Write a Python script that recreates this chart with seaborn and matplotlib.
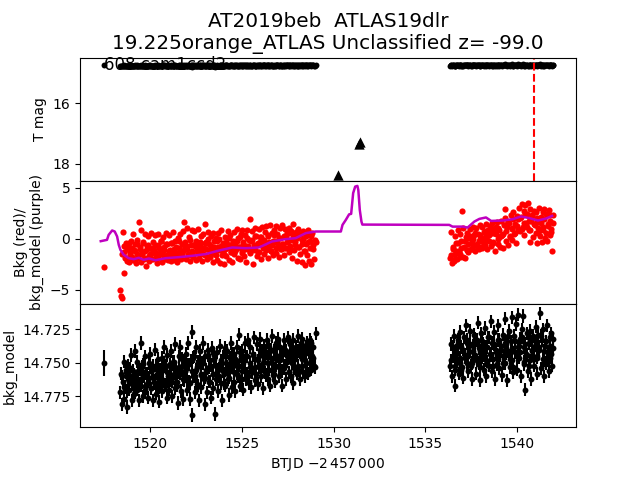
import matplotlib
matplotlib.use("Agg")
import matplotlib.pyplot as plt
import seaborn as sns

title_text = "AT2019beb  ATLAS19dlr\n19.225orange_ATLAS Unclassified z= -99.0"
sector_text = "608 cam1ccd2"
peak_time = 1540.9

# lone early cadence
first_time = [1517.5]
first_mag = [14.75]
first_err = [0.01]
first_bkg = [-2.75]

# first orbit
time_a = [
    1518.40, 1518.44, 1518.49, 1518.53, 1518.58, 1518.62, 1518.66, 1518.71, 1518.75, 1518.80,
    1518.84, 1518.88, 1518.93, 1518.97, 1519.02, 1519.06, 1519.10, 1519.15, 1519.19, 1519.24,
    1519.28, 1519.32, 1519.37, 1519.41, 1519.46, 1519.50, 1519.54, 1519.59, 1519.63, 1519.68,
    1519.72, 1519.76, 1519.81, 1519.85, 1519.90, 1519.94, 1519.98, 1520.03, 1520.07, 1520.12,
    1520.16, 1520.20, 1520.25, 1520.29, 1520.34, 1520.38, 1520.42, 1520.47, 1520.51, 1520.56,
    1520.60, 1520.64, 1520.69, 1520.73, 1520.78, 1520.82, 1520.86, 1520.91, 1520.95, 1521.00,
    1521.04, 1521.08, 1521.13, 1521.17, 1521.22, 1521.26, 1521.30, 1521.35, 1521.39, 1521.44,
    1521.48, 1521.52, 1521.57, 1521.61, 1521.66, 1521.70, 1521.74, 1521.79, 1521.83, 1521.88,
    1521.92, 1521.96, 1522.01, 1522.05, 1522.10, 1522.14, 1522.18, 1522.23, 1522.27, 1522.32,
    1522.36, 1522.40, 1522.45, 1522.49, 1522.54, 1522.58, 1522.62, 1522.67, 1522.71, 1522.76,
    1522.80, 1522.84, 1522.89, 1522.93, 1522.98, 1523.02, 1523.06, 1523.11, 1523.15, 1523.20,
    1523.24, 1523.28, 1523.33, 1523.37, 1523.42, 1523.46, 1523.50, 1523.55, 1523.59, 1523.64,
    1523.68, 1523.72, 1523.77, 1523.81, 1523.86, 1523.90, 1523.94, 1523.99, 1524.03, 1524.08,
    1524.12, 1524.16, 1524.21, 1524.25, 1524.30, 1524.34, 1524.38, 1524.43, 1524.47, 1524.52,
    1524.56, 1524.60, 1524.65, 1524.69, 1524.74, 1524.78, 1524.82, 1524.87, 1524.91, 1524.96,
    1525.00, 1525.04, 1525.09, 1525.13, 1525.18, 1525.22, 1525.26, 1525.31, 1525.35, 1525.40,
    1525.44, 1525.48, 1525.53, 1525.57, 1525.62, 1525.66, 1525.70, 1525.75, 1525.79, 1525.84,
    1525.88, 1525.92, 1525.97, 1526.01, 1526.06, 1526.10, 1526.14, 1526.19, 1526.23, 1526.28,
    1526.32, 1526.36, 1526.41, 1526.45, 1526.50, 1526.54, 1526.58, 1526.63, 1526.67, 1526.72,
    1526.76, 1526.80, 1526.85, 1526.89, 1526.94, 1526.98, 1527.02, 1527.07, 1527.11, 1527.16,
    1527.20, 1527.24, 1527.29, 1527.33, 1527.38, 1527.42, 1527.46, 1527.51, 1527.55, 1527.60,
    1527.64, 1527.68, 1527.73, 1527.77, 1527.82, 1527.86, 1527.90, 1527.95, 1527.99, 1528.04,
    1528.08, 1528.12, 1528.17, 1528.21, 1528.26, 1528.30, 1528.34, 1528.39, 1528.43, 1528.48,
    1528.52, 1528.57, 1528.62, 1528.67, 1528.72, 1528.77, 1528.82, 1528.87, 1528.95, 1529.02,
]
mag_a = [
    14.772, 14.758, 14.781, 14.764, 14.749, 14.777, 14.768, 14.755, 14.783, 14.762,
    14.752, 14.770, 14.760, 14.744, 14.778, 14.766, 14.756, 14.773, 14.741, 14.763,
    14.770, 14.749, 14.762, 14.778, 14.755, 14.735, 14.767, 14.753, 14.775, 14.760,
    14.745, 14.772, 14.758, 14.766, 14.776, 14.750, 14.761, 14.743, 14.769, 14.755,
    14.778, 14.752, 14.764, 14.740, 14.773, 14.758, 14.747, 14.768, 14.779, 14.755,
    14.762, 14.746, 14.771, 14.755, 14.738, 14.767, 14.752, 14.776, 14.744, 14.760,
    14.770, 14.751, 14.741, 14.763, 14.775, 14.749, 14.758, 14.736, 14.769, 14.754,
    14.764, 14.780, 14.745, 14.757, 14.738, 14.771, 14.752, 14.762, 14.777, 14.748,
    14.756, 14.743, 14.770, 14.751, 14.735, 14.764, 14.777, 14.748, 14.789, 14.727,
    14.760, 14.745, 14.772, 14.738, 14.755, 14.766, 14.749, 14.778, 14.741, 14.759,
    14.768, 14.750, 14.735, 14.762, 14.781, 14.745, 14.757, 14.772, 14.740, 14.753,
    14.764, 14.748, 14.776, 14.739, 14.758, 14.769, 14.744, 14.788, 14.752, 14.761,
    14.742, 14.771, 14.754, 14.737, 14.765, 14.749, 14.778, 14.745, 14.758, 14.739,
    14.767, 14.750, 14.741, 14.762, 14.774, 14.746, 14.756, 14.735, 14.768, 14.752,
    14.743, 14.764, 14.771, 14.748, 14.738, 14.760, 14.752, 14.729, 14.767, 14.745,
    14.756, 14.741, 14.770, 14.748, 14.735, 14.762, 14.745, 14.758, 14.733, 14.765,
    14.750, 14.738, 14.768, 14.756, 14.743, 14.731, 14.763, 14.747, 14.758, 14.736,
    14.766, 14.745, 14.753, 14.732, 14.760, 14.741, 14.769, 14.749, 14.737, 14.757,
    14.743, 14.733, 14.762, 14.750, 14.738, 14.767, 14.746, 14.755, 14.730, 14.759,
    14.741, 14.764, 14.735, 14.752, 14.745, 14.732, 14.760, 14.748, 14.738, 14.756,
    14.767, 14.743, 14.733, 14.754, 14.740, 14.762, 14.748, 14.731, 14.757, 14.745,
    14.736, 14.760, 14.750, 14.733, 14.765, 14.743, 14.754, 14.738, 14.758, 14.730,
    14.752, 14.741, 14.762, 14.735, 14.747, 14.732, 14.757, 14.744, 14.760, 14.738,
    14.750, 14.735, 14.758, 14.742, 14.733, 14.755, 14.745, 14.738, 14.752, 14.728,
]
bkg_a = [
    -5.0, -5.6, -5.8, 0.7, -1.3, -3.4, -1.9, -0.4, -2.2, -1.0,
    -0.6, -2.3, -1.4, -0.2, -1.8, 0.5, -2.1, -1.1, -0.5, -2.4,
    -1.5, -0.1, -1.9, 1.7, -1.0, -2.3, 0.9, -1.5, -0.4, -2.0,
    0.5, -1.2, -2.7, -0.7, 0.3, -1.7, -2.2, -0.9, 0.6, -1.4,
    -2.0, -0.3, -1.1, 0.4, -1.8, -2.4, -0.6, 0.5, -1.5, -1.0,
    -0.2, -2.3, -1.3, 0.2, -0.8, -2.0, 0.6, -1.6, -0.5, -2.1,
    0.4, -1.1, -2.2, -0.4, -1.7, 0.7, -1.0, -2.1, -0.2, -1.4,
    -2.3, 0.1, -0.9, -1.6, 0.5, -2.0, -0.5, -1.2, 0.8, 1.7,
    -0.3, -2.0, 1.1, -1.0, -1.5, 0.2, -2.2, -0.6, 0.9, -1.3,
    -1.7, 0.8, -0.7, -2.1, -0.2, -1.2, 1.0, -1.9, -0.6, 0.3,
    -1.4, -2.2, 0.5, -0.9, 1.5, -1.6, -0.3, -2.0, 0.7, -1.1,
    -0.5, -1.8, 0.3, -1.3, -2.3, 0.6, -0.8, -1.5, 0.1, -2.1,
    -0.2, 0.6, -1.1, -2.4, -0.7, 0.9, -1.6, -0.4, -2.5, -1.0,
    0.2, -1.7, -0.5, 0.8, -2.1, -0.9, 0.4, -1.3, -2.3, -0.2,
    -1.5, 0.7, -0.6, -1.0, 1.0, -1.9, 0.1, -0.8, -2.0, 0.5,
    -1.2, 0.9, -0.3, -1.7, 0.4, -0.7, -2.3, 0.9, -1.0, -0.1,
    1.9, -1.4, -0.2, 0.8, -2.5, -0.6, 1.1, -1.1, 0.3, -1.7,
    -0.4, 1.0, -1.3, 0.2, -2.0, 1.2, -0.7, -0.1, -1.5, 0.7,
    1.3, -0.9, -1.9, 0.4, -0.3, 1.4, -1.2, 0.6, -0.6, -1.6,
    0.9, -0.2, 1.3, -1.4, 0.5, -0.8, -1.8, 1.1, 0.1, -1.0,
    1.4, -0.5, 0.3, -1.6, 1.0, -0.9, 0.6, -0.2, -1.3, 1.1,
    -0.7, 0.8, -1.9, 0.2, 1.5, -1.1, -0.3, 0.7, -2.2, 0.4,
    1.0, -0.8, -1.5, 0.5, -2.3, -0.1, 0.8, -1.2, -2.6, 0.3,
    -0.5, -1.6, 0.9, -2.2, -0.2, -2.5, 0.6, -1.0, -2.0, -0.3,
]

# more first orbit cadences, these fill the core of the band
time_a2 = [
    1518.50, 1518.59, 1518.68, 1518.76, 1518.85, 1518.94, 1519.03, 1519.12, 1519.20, 1519.29,
    1519.38, 1519.47, 1519.56, 1519.64, 1519.73, 1519.82, 1519.91, 1520.00, 1520.08, 1520.17,
    1520.26, 1520.35, 1520.44, 1520.52, 1520.61, 1520.70, 1520.79, 1520.88, 1520.96, 1521.05,
    1521.14, 1521.23, 1521.32, 1521.40, 1521.49, 1521.58, 1521.67, 1521.76, 1521.84, 1521.93,
    1522.02, 1522.11, 1522.20, 1522.28, 1522.37, 1522.46, 1522.55, 1522.64, 1522.72, 1522.81,
    1522.90, 1522.99, 1523.08, 1523.16, 1523.25, 1523.34, 1523.43, 1523.52, 1523.60, 1523.69,
    1523.78, 1523.87, 1523.96, 1524.04, 1524.13, 1524.22, 1524.31, 1524.40, 1524.48, 1524.57,
    1524.66, 1524.75, 1524.84, 1524.92, 1525.01, 1525.10, 1525.19, 1525.28, 1525.36, 1525.45,
    1525.54, 1525.63, 1525.72, 1525.80, 1525.89, 1525.98, 1526.07, 1526.16, 1526.24, 1526.33,
    1526.42, 1526.51, 1526.60, 1526.68, 1526.77, 1526.86, 1526.95, 1527.04, 1527.12, 1527.21,
    1527.30, 1527.39, 1527.48, 1527.56, 1527.65, 1527.74, 1527.83, 1527.92, 1528.00, 1528.09,
    1528.18, 1528.27, 1528.36, 1528.44, 1528.53, 1528.62, 1528.71, 1528.80, 1528.88, 1528.97,
]
mag_a2 = [
    14.760, 14.768, 14.757, 14.771, 14.763, 14.754, 14.766, 14.759, 14.772, 14.762,
    14.756, 14.767, 14.761, 14.751, 14.770, 14.758, 14.764, 14.753, 14.769, 14.760,
    14.765, 14.752, 14.759, 14.768, 14.755, 14.763, 14.750, 14.766, 14.757, 14.761,
    14.754, 14.764, 14.749, 14.760, 14.767, 14.753, 14.758, 14.747, 14.763, 14.756,
    14.762, 14.751, 14.765, 14.756, 14.746, 14.760, 14.753, 14.767, 14.749, 14.758,
    14.750, 14.761, 14.755, 14.744, 14.764, 14.752, 14.758, 14.747, 14.762, 14.755,
    14.760, 14.748, 14.756, 14.765, 14.745, 14.753, 14.761, 14.750, 14.743, 14.757,
    14.747, 14.758, 14.752, 14.742, 14.762, 14.750, 14.756, 14.745, 14.760, 14.753,
    14.757, 14.744, 14.753, 14.761, 14.748, 14.740, 14.755, 14.750, 14.743, 14.759,
    14.745, 14.755, 14.740, 14.751, 14.758, 14.747, 14.738, 14.753, 14.743, 14.756,
    14.752, 14.741, 14.749, 14.757, 14.744, 14.738, 14.754, 14.747, 14.741, 14.755,
    14.742, 14.752, 14.737, 14.748, 14.755, 14.740, 14.750, 14.735, 14.746, 14.753,
]
bkg_a2 = [
    -1.5, -0.7, -1.9, -1.0, -0.4, -1.6, -0.9, -2.0, -1.2, -0.5,
    -1.7, -0.8, -1.3, -0.3, -1.9, -1.0, -0.6, -1.5, -2.0, -0.9,
    -0.6, -1.4, -1.9, -0.9, -0.2, -1.6, -1.1, -0.5, -1.8, -1.2,
    -1.3, -0.4, -1.7, -0.8, -1.9, -0.2, -1.1, -1.5, -0.6, -1.0,
    -0.7, -1.6, -0.1, -1.2, -1.8, -0.5, -0.9, -1.4, -0.3, -1.1,
    -1.5, -0.4, -1.0, 0.0, -1.7, -0.7, -1.2, -0.2, -1.6, -0.8,
    0.0, -1.1, -0.6, -1.5, -0.3, -0.9, 0.1, -1.3, -0.5, -1.0,
    -1.2, -0.2, -0.8, 0.2, -1.4, -0.5, -1.0, 0.1, -0.7, -1.3,
    -0.1, -1.0, 0.3, -0.6, -1.3, -0.3, 0.2, -0.9, -0.4, -1.1,
    0.3, -0.7, -1.2, -0.2, 0.4, -0.9, -0.4, 0.1, -1.0, -0.5,
    -0.9, 0.2, -0.3, 0.6, -1.1, -0.1, 0.4, -0.6, 0.1, -0.8,
    0.5, -0.5, 0.0, -1.2, 0.6, -0.3, -0.9, 0.3, -0.6, -0.1,
]

# second orbit
time_b = [
    1536.35, 1536.40, 1536.44, 1536.49, 1536.54, 1536.59, 1536.63, 1536.68, 1536.73, 1536.77,
    1536.82, 1536.87, 1536.91, 1536.96, 1537.01, 1537.06, 1537.10, 1537.15, 1537.20, 1537.24,
    1537.29, 1537.34, 1537.38, 1537.43, 1537.48, 1537.53, 1537.57, 1537.62, 1537.67, 1537.71,
    1537.76, 1537.81, 1537.85, 1537.90, 1537.95, 1538.00, 1538.04, 1538.09, 1538.14, 1538.18,
    1538.23, 1538.28, 1538.32, 1538.37, 1538.42, 1538.47, 1538.51, 1538.56, 1538.61, 1538.65,
    1538.70, 1538.75, 1538.79, 1538.84, 1538.89, 1538.94, 1538.98, 1539.03, 1539.08, 1539.12,
    1539.17, 1539.22, 1539.26, 1539.31, 1539.36, 1539.41, 1539.45, 1539.50, 1539.55, 1539.59,
    1539.64, 1539.69, 1539.73, 1539.78, 1539.83, 1539.88, 1539.92, 1539.97, 1540.02, 1540.06,
    1540.11, 1540.16, 1540.20, 1540.25, 1540.30, 1540.35, 1540.39, 1540.44, 1540.49, 1540.53,
    1540.58, 1540.63, 1540.67, 1540.72, 1540.77, 1540.82, 1540.86, 1540.91, 1540.96, 1541.00,
    1541.05, 1541.10, 1541.14, 1541.19, 1541.24, 1541.29, 1541.33, 1541.38, 1541.43, 1541.47,
    1541.52, 1541.57, 1541.61, 1541.66, 1541.71, 1541.76, 1541.80, 1541.85, 1541.90, 1541.94,
]
mag_b = [
    14.752, 14.736, 14.760, 14.745, 14.730, 14.755, 14.767, 14.741, 14.749, 14.733,
    14.758, 14.727, 14.746, 14.738, 14.753, 14.761, 14.731, 14.744, 14.722, 14.750,
    14.735, 14.756, 14.742, 14.726, 14.752, 14.762, 14.737, 14.748, 14.729, 14.744,
    14.758, 14.733, 14.720, 14.750, 14.741, 14.763, 14.728, 14.746, 14.736, 14.755,
    14.724, 14.748, 14.760, 14.738, 14.731, 14.752, 14.743, 14.719, 14.756, 14.735,
    14.747, 14.727, 14.762, 14.740, 14.751, 14.733, 14.722, 14.754, 14.744, 14.737,
    14.759, 14.729, 14.745, 14.717, 14.750, 14.736, 14.763, 14.741, 14.726, 14.753,
    14.734, 14.716, 14.748, 14.757, 14.730, 14.742, 14.721, 14.755, 14.738, 14.714,
    14.746, 14.732, 14.760, 14.725, 14.715, 14.751, 14.738, 14.770, 14.743, 14.728,
    14.756, 14.735, 14.748, 14.726, 14.762, 14.741, 14.730, 14.752, 14.737, 14.723,
    14.745, 14.758, 14.729, 14.740, 14.713, 14.754, 14.733, 14.747, 14.725, 14.760,
    14.737, 14.750, 14.722, 14.743, 14.756, 14.731, 14.746, 14.728, 14.752, 14.739,
]
bkg_b = [
    -1.9, 0.7, -2.4, -1.0, -2.2, 0.3, -1.5, -0.4, -2.0, 0.9,
    -1.2, 0.5, -1.8, -0.2, 2.7, 1.1, -0.8, -1.9, 0.2, -1.1,
    0.6, -1.3, 0.1, 1.0, -1.0, -0.3, 1.2, -0.7, 0.4, -1.2,
    1.1, -0.5, 0.5, -1.0, 1.4, 0.0, -0.8, 1.2, -0.3, 0.7,
    -0.6, 1.5, 0.3, -1.0, 0.9, -0.2, 1.3, -0.7, 0.6, 1.6,
    -0.3, 1.0, -1.2, 0.5, 1.7, -0.5, 1.1, 0.2, -0.8, 1.8,
    0.4, -0.9, 1.4, 2.9, 2.0, -0.2, 1.2, -0.6, 1.6, 0.3,
    2.3, -0.1, 1.0, 2.6, 0.5, 1.5, -0.4, 2.2, 0.9, 1.9,
    3.0, 0.8, 2.1, 3.4, 1.2, 2.7, 0.4, 3.3, 1.6, 2.4,
    3.5, 0.9, 2.9, -0.3, 1.8, 2.3, 0.2, 2.7, 1.4, 0.6,
    2.0, -0.4, 1.1, 3.0, 0.3, 1.6, -0.3, 2.6, 0.9, 2.9,
    0.1, 2.4, -0.2, 1.3, 2.8, 0.4, 1.8, 0.7, -1.2, 2.3,
]

# more second orbit cadences
time_b2 = [
    1536.40, 1536.49, 1536.59, 1536.68, 1536.78, 1536.87, 1536.96, 1537.06, 1537.15, 1537.25,
    1537.34, 1537.43, 1537.53, 1537.62, 1537.72, 1537.81, 1537.90, 1538.00, 1538.09, 1538.19,
    1538.28, 1538.37, 1538.47, 1538.56, 1538.66, 1538.75, 1538.84, 1538.94, 1539.03, 1539.13,
    1539.22, 1539.31, 1539.41, 1539.50, 1539.60, 1539.69, 1539.78, 1539.88, 1539.97, 1540.07,
    1540.16, 1540.25, 1540.35, 1540.44, 1540.54, 1540.63, 1540.72, 1540.82, 1540.91, 1541.01,
    1541.10, 1541.19, 1541.29, 1541.38, 1541.48, 1541.57, 1541.66, 1541.76, 1541.85, 1541.95,
]
mag_b2 = [
    14.748, 14.738, 14.752, 14.743, 14.735, 14.750, 14.755, 14.740, 14.746, 14.733,
    14.745, 14.736, 14.750, 14.741, 14.732, 14.748, 14.739, 14.753, 14.734, 14.744,
    14.738, 14.749, 14.731, 14.744, 14.752, 14.736, 14.742, 14.747, 14.733, 14.740,
    14.750, 14.735, 14.743, 14.730, 14.747, 14.739, 14.753, 14.734, 14.745, 14.737,
    14.742, 14.731, 14.749, 14.736, 14.744, 14.752, 14.733, 14.740, 14.747, 14.735,
    14.746, 14.738, 14.730, 14.751, 14.741, 14.734, 14.748, 14.737, 14.743, 14.732,
]
bkg_b2 = [
    -1.6, -0.8, -2.0, -1.2, -0.4, -1.5, -0.9, -1.8, -0.2, -1.1,
    -0.5, 0.3, -1.0, 0.0, 0.6, -0.7, -0.2, 0.4, -0.9, 0.1,
    0.8, -0.1, 0.4, 1.1, -0.4, 0.6, 1.2, 0.0, 0.9, 0.3,
    0.5, 1.4, 0.8, 1.7, 0.2, 1.1, 1.9, 0.6, 1.3, 0.9,
    2.0, 1.0, 1.6, 2.4, 1.2, 1.8, 0.9, 2.2, 1.5, 2.6,
    1.7, 0.8, 2.1, 1.2, 1.9, 0.6, 1.5, 2.3, 1.0, 1.6,
]
mag_err = 0.005

# background model curve
model_time = [
    1517.33, 1517.67, 1517.76, 1517.95, 1518.09, 1518.22, 1518.31, 1518.40, 1518.58, 1518.85,
    1519.13, 1519.40, 1519.67, 1519.95, 1520.31, 1520.86, 1521.58, 1522.30, 1523.04, 1523.76,
    1524.48, 1525.22, 1525.94, 1526.65, 1527.40, 1527.94, 1528.49, 1529.03, 1529.76, 1530.40,
    1530.49, 1530.67, 1530.85, 1530.96, 1531.07, 1531.18, 1531.30, 1531.35, 1531.43, 1531.52,
    1531.57, 1536.30, 1536.48, 1537.03, 1537.30, 1537.67, 1537.94, 1538.30, 1538.58, 1539.20,
    1539.76, 1540.20, 1540.67, 1541.13, 1541.58, 1541.90,
]
model_bkg = [
    -0.23, -0.10, 0.39, 0.82, 0.72, 0.23, -0.59, -1.08, -1.57, -1.90,
    -2.00, -1.86, -2.06, -1.93, -2.10, -1.90, -1.80, -1.67, -1.50, -1.15,
    -0.85, -0.92, -0.85, -0.26, -0.03, 0.07, 0.56, 0.72, 0.72, 0.72,
    1.37, 1.86, 2.41, 2.45, 4.50, 5.13, 5.20, 4.80, 2.84, 1.70,
    1.40, 1.37, 1.20, 1.20, 1.11, 1.70, 1.96, 2.10, 1.76, 1.80,
    1.93, 2.20, 2.03, 1.80, 2.00, 2.25,
]

# upper limit triangles
limit_time = [1530.27, 1531.38, 1531.42]
limit_mag = [18.38, 17.33, 17.27]

mag_ticks = [16, 18]
bkg_ticks = [-5, 0, 5]
model_ticks = [14.725, 14.750, 14.775]

all_time = first_time + time_a + time_a2 + time_b + time_b2
all_mag = first_mag + mag_a + mag_a2 + mag_b + mag_b2
all_bkg = first_bkg + bkg_a + bkg_a2 + bkg_b + bkg_b2

fig, (ax1, ax2, ax3) = plt.subplots(3, 1, sharex=True, figsize=(6.4, 4.8))
fig.subplots_adjust(hspace=0)

# Light curve panels share the same points
for ax in (ax1, ax3):
    ax.errorbar(first_time, first_mag, yerr=first_err, fmt="none", ecolor="k", lw=1.5)
    ax.errorbar(all_time[1:], all_mag[1:], yerr=mag_err, fmt="none", ecolor="k", lw=1.5)
    sns.scatterplot(x=all_time, y=all_mag, ax=ax, color="k", s=18, linewidth=0)

sns.scatterplot(x=limit_time, y=limit_mag, ax=ax1, color="k", marker="^", s=55, linewidth=0)
ax1.axvline(peak_time, color="r", ls="--", lw=1.5)
ax1.text(1517.5, 14.9, sector_text, fontsize=12)
ax1.set_ylim(18.56, 14.49)
ax1.set_yticks(mag_ticks)
ax1.set_ylabel("T mag")
ax1.set_title(title_text, fontsize=14.4)

sns.scatterplot(x=all_time, y=all_bkg, ax=ax2, color="r", s=20, linewidth=0)
sns.lineplot(x=model_time, y=model_bkg, ax=ax2, color="m", lw=1.8, sort=False, estimator=None)
ax2.set_ylim(-6.4, 5.7)
ax2.set_yticks(bkg_ticks)
ax2.set_ylabel("Bkg (red)/\nbkg_model (purple)")

ax3.set_ylim(14.798, 14.706)
ax3.set_yticks(model_ticks)
ax3.set_ylabel("bkg_model")
ax3.set_xlim(1516.2, 1543.2)
ax3.set_xticks([1520, 1525, 1530, 1535, 1540])
ax3.set_xlabel(r"BTJD $-2\,457\,000$")

ax1.tick_params(bottom=False)
ax2.tick_params(bottom=False)

plt.savefig("out.png", dpi=100)
plt.close()
